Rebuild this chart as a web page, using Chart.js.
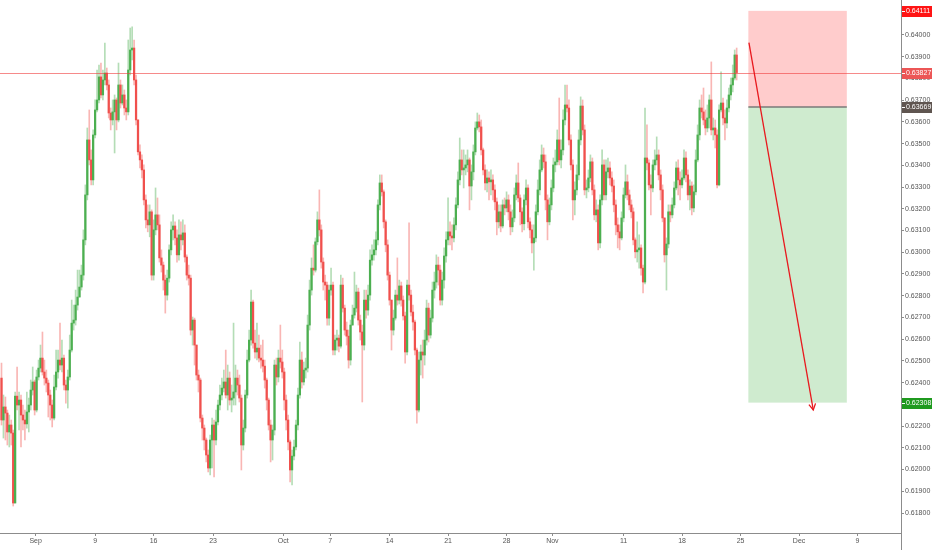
<!DOCTYPE html>
<html>
<head>
<meta charset="utf-8">
<script src="https://cdn.jsdelivr.net/npm/chart.js@4.4.1/dist/chart.umd.min.js"></script>
<style>
html,body{margin:0;padding:0;background:#fff;}
#wrap{width:932px;height:550px;position:relative;}
</style>
</head>
<body>
<div id="wrap"><canvas id="c" width="932" height="550"></canvas></div>
<script>
// ---- DATA (4H candles, NZDUSD-like) ----
const firstOpen = 0.62421;
const closes = [
0.62228,0.62288,0.62260,0.62173,0.62205,0.62168,0.61846,0.62338,0.62297,0.62320,
0.62251,0.62228,0.62210,0.62265,0.62297,0.62366,0.62403,0.62274,0.62426,0.62467,
0.62513,0.62449,0.62421,0.62398,0.62343,0.62297,0.62237,0.62380,0.62449,0.62504,
0.62481,0.62513,0.62389,0.62366,0.62426,0.62550,0.62674,0.62688,0.62757,0.62794,
0.62840,0.62895,0.63057,0.63264,0.63517,0.63425,0.63333,0.63540,0.63655,0.63701,
0.63807,0.63724,0.63793,0.63825,0.63770,0.63641,0.63609,0.63646,0.63701,0.63609,
0.63770,0.63687,0.63724,0.63664,0.63646,0.63839,0.63931,0.63940,0.63793,0.63609,
0.63462,0.63425,0.63379,0.63241,0.63149,0.63126,0.63186,0.62895,0.63103,0.63172,
0.63126,0.62974,0.62941,0.62872,0.62803,0.62881,0.63011,0.63103,0.63121,0.63066,
0.62988,0.63080,0.63057,0.63089,0.62978,0.62895,0.62881,0.62642,0.62688,0.62573,
0.62435,0.62412,0.62237,0.62191,0.62136,0.62067,0.62007,0.62136,0.62205,0.62136,
0.62219,0.62297,0.62343,0.62375,0.62403,0.62343,0.62421,0.62320,0.62329,0.62357,
0.62421,0.62389,0.62329,0.62113,0.62191,0.62343,0.62504,0.62596,0.62771,0.62582,
0.62541,0.62559,0.62513,0.62504,0.62476,0.62412,0.62320,0.62205,0.62136,0.62182,
0.62481,0.62426,0.62513,0.62495,0.62449,0.62320,0.62228,0.62127,0.61998,0.62062,
0.62104,0.62205,0.62343,0.62504,0.62403,0.62458,0.62467,0.62665,0.62826,0.62927,
0.62918,0.63048,0.63149,0.63103,0.62955,0.62863,0.62849,0.62697,0.62826,0.62849,
0.62550,0.62596,0.62605,0.62568,0.62849,0.62743,0.62642,0.62614,0.62504,0.62665,
0.62711,0.62743,0.62817,0.62688,0.62633,0.62573,0.62780,0.62734,0.62803,0.62964,
0.62988,0.63011,0.63057,0.63218,0.63319,0.63278,0.63140,0.63034,0.62895,0.62780,
0.62642,0.62697,0.62803,0.62780,0.62845,0.62780,0.62707,0.62541,0.62849,0.62803,
0.62725,0.62679,0.62550,0.62274,0.62504,0.62541,0.62527,0.62596,0.62743,0.62619,
0.62697,0.62826,0.62863,0.62941,0.62918,0.62780,0.62872,0.62983,0.63057,0.63094,
0.63075,0.63066,0.63126,0.63218,0.63333,0.63425,0.63379,0.63388,0.63402,0.63425,
0.63305,0.63370,0.63462,0.63572,0.63600,0.63577,0.63471,0.63379,0.63319,0.63342,
0.63324,0.63333,0.63287,0.63232,0.63140,0.63186,0.63121,0.63218,0.63204,0.63241,
0.63186,0.63117,0.63158,0.63264,0.63319,0.63250,0.63186,0.63131,0.63241,0.63296,
0.63140,0.63103,0.63043,0.63066,0.63186,0.63287,0.63379,0.63448,0.63416,0.63241,
0.63140,0.63218,0.63296,0.63402,0.63416,0.63517,0.63425,0.63471,0.63609,0.63678,
0.63664,0.63517,0.63402,0.63241,0.63287,0.63356,0.63517,0.63673,0.63563,0.63287,
0.63296,0.63342,0.63416,0.63287,0.63172,0.63195,0.63043,0.63241,0.63402,0.63264,
0.63370,0.63388,0.63342,0.63305,0.63218,0.63126,0.63094,0.63066,0.63158,0.63264,
0.63324,0.63264,0.63218,0.63186,0.63057,0.63002,0.63011,0.63020,0.62927,0.62863,
0.63434,0.63411,0.63310,0.63296,0.63402,0.63425,0.63448,0.63356,0.63287,0.63158,
0.62988,0.63038,0.63186,0.63172,0.63218,0.63296,0.63388,0.63333,0.63310,0.63342,
0.63434,0.63356,0.63264,0.63305,0.63204,0.63278,0.63425,0.63540,0.63664,0.63646,
0.63609,0.63572,0.63618,0.63701,0.63563,0.63572,0.63540,0.63310,0.63655,0.63687,
0.63618,0.63595,0.63664,0.63724,0.63770,0.63802,0.63908,0.63827];
const highs = [
0.62490,0.62343,0.62334,0.62274,0.62251,0.62228,0.62182,0.62357,0.62472,0.62357,
0.62343,0.62297,0.62274,0.62357,0.62329,0.62412,0.62472,0.62412,0.62458,0.62504,
0.62573,0.62633,0.62504,0.62458,0.62412,0.62366,0.62320,0.62435,0.62550,0.62550,
0.62674,0.62596,0.62527,0.62412,0.62458,0.62619,0.62780,0.62757,0.62826,0.62918,
0.62918,0.62941,0.63103,0.63310,0.63572,0.63655,0.63471,0.63563,0.63701,0.63839,
0.63862,0.63871,0.63839,0.63963,0.63848,0.63793,0.63664,0.63701,0.63724,0.63710,
0.63871,0.63793,0.63770,0.63747,0.63701,0.63977,0.64032,0.64037,0.63977,0.63816,
0.63609,0.63494,0.63448,0.63402,0.63264,0.63218,0.63218,0.63195,0.63149,0.63296,
0.63250,0.63172,0.63011,0.62955,0.62895,0.62918,0.63034,0.63140,0.63172,0.63140,
0.63103,0.63149,0.63140,0.63149,0.63126,0.62988,0.62941,0.62895,0.62702,0.62697,
0.62573,0.62458,0.62421,0.62251,0.62205,0.62145,0.62090,0.62159,0.62237,0.62228,
0.62274,0.62320,0.62389,0.62421,0.62458,0.62550,0.62481,0.62449,0.62389,0.62674,
0.62481,0.62458,0.62435,0.62343,0.62228,0.62366,0.62550,0.62642,0.62826,0.62780,
0.62642,0.62674,0.62619,0.62573,0.62596,0.62504,0.62421,0.62329,0.62228,0.62205,
0.62504,0.62513,0.62550,0.62665,0.62550,0.62467,0.62343,0.62251,0.62136,0.62090,
0.62136,0.62228,0.62375,0.62587,0.62541,0.62495,0.62513,0.62711,0.62872,0.62974,
0.63034,0.63066,0.63186,0.63287,0.63126,0.62974,0.62895,0.62863,0.62849,0.62927,
0.62863,0.62619,0.62642,0.62619,0.62895,0.62881,0.62757,0.62679,0.62642,0.62688,
0.62757,0.62909,0.62849,0.62835,0.62711,0.62665,0.62826,0.62826,0.62849,0.63011,
0.63034,0.63057,0.63094,0.63241,0.63356,0.63356,0.63287,0.63149,0.63057,0.62909,
0.62780,0.62734,0.62826,0.62974,0.62872,0.62863,0.62799,0.62725,0.62872,0.63135,
0.62826,0.62757,0.62688,0.62559,0.62541,0.62573,0.62596,0.62642,0.62780,0.62766,
0.62734,0.62863,0.62909,0.62988,0.62978,0.62941,0.62909,0.63020,0.63094,0.63250,
0.63140,0.63126,0.63158,0.63250,0.63370,0.63526,0.63471,0.63471,0.63448,0.63471,
0.63434,0.63402,0.63494,0.63600,0.63641,0.63632,0.63609,0.63480,0.63402,0.63379,
0.63370,0.63379,0.63356,0.63310,0.63250,0.63218,0.63218,0.63241,0.63250,0.63278,
0.63264,0.63218,0.63195,0.63296,0.63356,0.63411,0.63264,0.63204,0.63264,0.63333,
0.63310,0.63158,0.63126,0.63126,0.63218,0.63333,0.63425,0.63494,0.63480,0.63448,
0.63264,0.63250,0.63333,0.63434,0.63471,0.63563,0.63710,0.63517,0.63655,0.63770,
0.63770,0.63701,0.63540,0.63425,0.63324,0.63402,0.63563,0.63715,0.63701,0.63586,
0.63333,0.63379,0.63448,0.63434,0.63310,0.63241,0.63218,0.63264,0.63471,0.63425,
0.63425,0.63434,0.63416,0.63370,0.63333,0.63241,0.63158,0.63126,0.63186,0.63296,
0.63402,0.63356,0.63287,0.63241,0.63204,0.63066,0.63140,0.63080,0.63034,0.62941,
0.63664,0.63586,0.63425,0.63356,0.63425,0.63471,0.63531,0.63471,0.63379,0.63310,
0.63158,0.63066,0.63218,0.63218,0.63250,0.63324,0.63416,0.63425,0.63370,0.63379,
0.63471,0.63462,0.63379,0.63333,0.63324,0.63310,0.63471,0.63586,0.63701,0.63724,
0.63756,0.63655,0.63678,0.63724,0.63876,0.63618,0.63609,0.63563,0.63678,0.63830,
0.63710,0.63655,0.63701,0.63756,0.63802,0.63862,0.63931,0.63940];
const lows = [
0.62205,0.62145,0.62136,0.62113,0.62104,0.62113,0.61832,0.61846,0.62274,0.62182,
0.62104,0.62182,0.62136,0.62191,0.62173,0.62274,0.62343,0.62251,0.62265,0.62412,
0.62449,0.62435,0.62389,0.62357,0.62242,0.62228,0.62196,0.62228,0.62366,0.62421,
0.62458,0.62449,0.62366,0.62306,0.62283,0.62412,0.62541,0.62642,0.62665,0.62734,
0.62817,0.62826,0.62872,0.63034,0.63241,0.63402,0.63310,0.63310,0.63526,0.63646,
0.63687,0.63710,0.63701,0.63770,0.63747,0.63618,0.63563,0.63586,0.63457,0.63563,
0.63600,0.63664,0.63678,0.63632,0.63609,0.63632,0.63816,0.63885,0.63770,0.63586,
0.63448,0.63388,0.63342,0.63218,0.63112,0.63094,0.63071,0.62872,0.62872,0.63080,
0.63103,0.62955,0.62909,0.62826,0.62720,0.62780,0.62863,0.62988,0.63057,0.63034,
0.62955,0.62964,0.63011,0.63034,0.62955,0.62872,0.62849,0.62619,0.62573,0.62481,
0.62412,0.62357,0.62219,0.62136,0.62090,0.62035,0.61989,0.61975,0.62007,0.61966,
0.62113,0.62205,0.62274,0.62320,0.62357,0.62329,0.62274,0.62297,0.62265,0.62297,
0.62297,0.62343,0.62311,0.61998,0.62090,0.62173,0.62329,0.62495,0.62573,0.62559,
0.62513,0.62504,0.62495,0.62467,0.62449,0.62375,0.62274,0.62182,0.62035,0.62044,
0.62159,0.62389,0.62403,0.62467,0.62421,0.62274,0.62182,0.62090,0.61943,0.61929,
0.62044,0.62090,0.62182,0.62329,0.62375,0.62389,0.62421,0.62449,0.62642,0.62803,
0.62895,0.62909,0.63034,0.63075,0.62927,0.62826,0.62780,0.62665,0.62665,0.62803,
0.62527,0.62527,0.62550,0.62541,0.62559,0.62725,0.62619,0.62573,0.62467,0.62481,
0.62665,0.62697,0.62725,0.62665,0.62596,0.62311,0.62550,0.62697,0.62711,0.62780,
0.62941,0.62964,0.62988,0.63034,0.63195,0.63259,0.63112,0.63002,0.62872,0.62757,
0.62550,0.62619,0.62688,0.62757,0.62762,0.62752,0.62688,0.62490,0.62527,0.62780,
0.62707,0.62642,0.62527,0.62214,0.62265,0.62435,0.62421,0.62481,0.62573,0.62587,
0.62605,0.62679,0.62789,0.62835,0.62849,0.62757,0.62757,0.62835,0.62955,0.63034,
0.63034,0.63011,0.63048,0.63103,0.63204,0.63310,0.63356,0.63296,0.63356,0.63370,
0.63195,0.63241,0.63333,0.63448,0.63563,0.63554,0.63448,0.63356,0.63287,0.63278,
0.63241,0.63264,0.63241,0.63195,0.63080,0.63112,0.63094,0.63112,0.63172,0.63186,
0.63149,0.63080,0.63094,0.63140,0.63241,0.63232,0.63126,0.63094,0.63103,0.63218,
0.63112,0.63066,0.62997,0.62918,0.63048,0.63172,0.63264,0.63370,0.63388,0.63195,
0.63057,0.63126,0.63195,0.63278,0.63370,0.63402,0.63402,0.63388,0.63448,0.63586,
0.63646,0.63494,0.63379,0.63149,0.63172,0.63264,0.63333,0.63494,0.63540,0.63264,
0.63250,0.63278,0.63324,0.63264,0.63149,0.63140,0.63011,0.63020,0.63218,0.63241,
0.63241,0.63342,0.63310,0.63278,0.63186,0.63080,0.63020,0.63011,0.63057,0.63140,
0.63250,0.63241,0.63195,0.63158,0.63034,0.62974,0.62955,0.62927,0.62895,0.62813,
0.62854,0.63379,0.63287,0.63172,0.63278,0.63379,0.63402,0.63333,0.63241,0.63140,
0.62955,0.62826,0.63020,0.63140,0.63158,0.63204,0.63287,0.63264,0.63241,0.63296,
0.63333,0.63324,0.63241,0.63195,0.63172,0.63186,0.63264,0.63416,0.63517,0.63618,
0.63586,0.63540,0.63554,0.63572,0.63540,0.63517,0.63480,0.63296,0.63305,0.63646,
0.63586,0.63517,0.63572,0.63646,0.63701,0.63738,0.63793,0.63793];

// time axis labels and the bar index at which each date starts
const dateLabels = ['Sep','9','16','23','Oct','7','14','21','28','Nov','11','18','25','Dec','9'];
const dateBars   = [17.5, 48, 78, 108.5, 144.5, 168.5, 199, 229, 259, 282.5, 319, 349, 379, 409, 439];
// price axis ticks
const priceTicks = [0.618,0.619,0.620,0.621,0.622,0.623,0.624,0.625,0.626,0.627,0.628,0.629,0.630,0.631,0.632,0.633,0.634,0.635,0.636,0.637,0.638,0.639,0.640,0.641];
// last price and short position tool (stop / entry / target)
const lastPrice = 0.63827;
const positionPrices = [0.64111, 0.63669, 0.62308]; // stop, entry, target
const positionBars = [383, 433.5];
const arrowBars = [383.3, 416.3];
const arrowPrices = [0.63965, 0.62274];

// ---- BUILD ----
const opens = closes.map((c, i) => i === 0 ? firstOpen : closes[i - 1]);
const UP = '#4caf50', DOWN = '#f0504d';
const UPW = 'rgba(76,175,80,0.42)', DOWNW = 'rgba(240,80,77,0.42)';
const bodies = closes.map((c, i) => ({x: i, y: [opens[i], c]}));
const wicks = closes.map((c, i) => ({x: i, y: [Math.min(lows[i], opens[i], c), Math.max(highs[i], opens[i], c)]}));
const bodyCol = closes.map((c, i) => c >= opens[i] ? UP : DOWN);
const wickCol = closes.map((c, i) => c >= opens[i] ? UPW : DOWNW);

const FONT = {family: '"Liberation Sans", Arial, sans-serif', size: 7};

const overlay = {
  id: 'overlay',
  beforeDatasetsDraw(chart) {
    const {ctx, scales: {x, y}} = chart;
    ctx.save();
    const x0 = x.getPixelForValue(positionBars[0]), x1 = x.getPixelForValue(positionBars[1]);
    const yS = y.getPixelForValue(positionPrices[0]), yE = y.getPixelForValue(positionPrices[1]), yT = y.getPixelForValue(positionPrices[2]);
    ctx.fillStyle = 'rgba(255,0,0,0.2)';
    ctx.fillRect(x0, yS, x1 - x0, yE - yS);
    ctx.fillStyle = 'rgba(0,150,0,0.19)';
    ctx.fillRect(x0, yE, x1 - x0, yT - yE);
    ctx.strokeStyle = 'rgba(110,110,110,0.9)';
    ctx.lineWidth = 1.5;
    ctx.beginPath(); ctx.moveTo(x0, yE); ctx.lineTo(x1, yE); ctx.stroke();
    ctx.restore();
  },
  afterDatasetsDraw(chart) {
    const {ctx, chartArea: a, scales: {x, y}} = chart;
    ctx.save();
    const yl = Math.round(y.getPixelForValue(lastPrice));
    ctx.fillStyle = 'rgba(240,60,60,0.6)';
    ctx.fillRect(a.left, yl, a.right - a.left, 1);
    const ax0 = x.getPixelForValue(arrowBars[0]), ay0 = y.getPixelForValue(arrowPrices[0]);
    const ax1 = x.getPixelForValue(arrowBars[1]), ay1 = y.getPixelForValue(arrowPrices[1]);
    ctx.strokeStyle = '#e8191e';
    ctx.lineWidth = 1.3;
    ctx.beginPath(); ctx.moveTo(ax0, ay0); ctx.lineTo(ax1, ay1); ctx.stroke();
    const ang = Math.atan2(ay1 - ay0, ax1 - ax0), L = 7;
    ctx.beginPath();
    ctx.moveTo(ax1 - L * Math.cos(ang - 0.5), ay1 - L * Math.sin(ang - 0.5));
    ctx.lineTo(ax1, ay1);
    ctx.lineTo(ax1 - L * Math.cos(ang + 0.5), ay1 - L * Math.sin(ang + 0.5));
    ctx.stroke();
    ctx.restore();
  },
  afterDraw(chart) {
    const {ctx, chartArea: a, scales: {y}} = chart;
    ctx.save();
    ctx.strokeStyle = '#8c8c8c';
    ctx.lineWidth = 1;
    ctx.beginPath(); ctx.moveTo(a.right + 0.5, 0); ctx.lineTo(a.right + 0.5, chart.height); ctx.stroke();
    const boxes = [
      [positionPrices[1], '#5f5550'],
      [lastPrice, '#ec5656'],
      [positionPrices[0], '#ff1414'],
      [positionPrices[2], '#1f9a1f']
    ];
    ctx.font = '7px "Liberation Sans", Arial, sans-serif';
    ctx.textBaseline = 'middle';
    for (const [v, col] of boxes) {
      const py = Math.round(y.getPixelForValue(v));
      ctx.fillStyle = col;
      ctx.fillRect(a.right + 1, py - 5, chart.width - a.right - 1, 11);
      ctx.fillStyle = '#fff';
      ctx.fillRect(a.right + 1, py, 3, 1);
      ctx.fillText(v.toFixed(5), a.right + 5, py + 0.5);
    }
    ctx.restore();
  }
};

new Chart(document.getElementById('c'), {
  type: 'bar',
  data: {
    datasets: [
      {label: 'wick', data: wicks, backgroundColor: wickCol, barThickness: 1, grouped: false, order: 2},
      {label: 'body', data: bodies, backgroundColor: bodyCol, barThickness: 1.6, grouped: false, minBarLength: 1, order: 1}
    ]
  },
  options: {
    responsive: false,
    animation: false,
    events: [],
    layout: {padding: 0},
    plugins: {legend: {display: false}, tooltip: {enabled: false}},
    scales: {
      x: {
        type: 'linear', offset: false,
        min: -0.77, max: 461.28,
        afterFit(s) { s.height = 17; s.paddingLeft = 0; s.paddingRight = 0; },
        afterBuildTicks(s) { s.ticks = dateBars.map(v => ({value: v})); },
        ticks: {
          autoSkip: false, maxRotation: 0, minRotation: 0, padding: 1,
          color: '#555', font: FONT,
          callback: (v, i) => dateLabels[i]
        },
        grid: {offset: false, drawOnChartArea: false, drawTicks: true, tickLength: 3, color: '#8c8c8c'},
        border: {display: true, color: '#8c8c8c'}
      },
      y: {
        position: 'right', type: 'linear', beginAtZero: false,
        min: 0.61708, max: 0.64161,
        afterFit(s) { s.width = 31; s.paddingTop = 0; s.paddingBottom = 0; },
        afterBuildTicks(s) { s.ticks = priceTicks.map(v => ({value: v})); },
        ticks: {
          padding: 1, color: '#555', font: FONT,
          callback: v => v.toFixed(5)
        },
        grid: {drawOnChartArea: false, drawTicks: true, tickLength: 3, color: '#8c8c8c'},
        border: {display: true, color: '#8c8c8c'}
      }
    }
  },
  plugins: [overlay]
});
</script>
</body>
</html>
